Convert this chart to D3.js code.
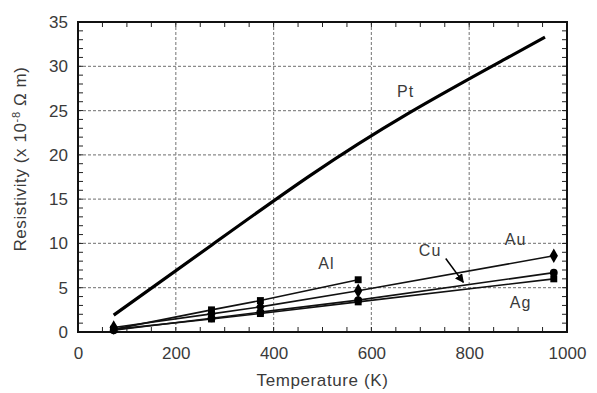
<!DOCTYPE html>
<html>
<head>
<meta charset="utf-8">
<script src="https://cdn.jsdelivr.net/npm/d3@7"></script>
<style>
  body { margin: 0; background: #fff; }
  text { font-family: "Liberation Sans", Arial, sans-serif; fill: #3a3a3a; }
</style>
</head>
<body>
<script>
// temperatures (K) of the measured points
var temps = [73, 273, 373, 573, 973];
var alValues = [0.3, 2.5, 3.55, 5.9];
var auValues = [0.5, 2.05, 2.84, 4.65, 8.6];
var cuValues = [0.2, 1.55, 2.24, 3.6, 6.7];
var agValues = [0.3, 1.47, 2.08, 3.4, 6.0];

// platinum curve
var ptTemps = [73, 273, 473, 673, 873, 955];
var ptValues = [1.9, 9.8, 17.6, 24.6, 30.8, 33.3];

var xTicks = [0, 200, 400, 600, 800, 1000];
var yTicks = [0, 5, 10, 15, 20, 25, 30, 35];

var width = 597,
    height = 393;
var margin = { top: 22, right: 30, bottom: 61, left: 78 };
var w = width - margin.left - margin.right,
    h = height - margin.top - margin.bottom;

var svg = d3.select("body").append("svg")
    .attr("width", width)
    .attr("height", height);

var g = svg.append("g")
    .attr("transform", `translate(${margin.left},${margin.top})`);

var x = d3.scaleLinear().domain([0, 1000]).range([0, w]);
var y = d3.scaleLinear().domain([0, 35]).range([h, 0]);

// dashed grid
g.selectAll(".gx").data(xTicks.slice(1, -1)).join("line")
    .attr("x1", d => x(d)).attr("x2", d => x(d))
    .attr("y1", 0).attr("y2", h)
    .attr("stroke", "#8a8a8a").attr("stroke-width", 1.2)
    .attr("stroke-dasharray", "3,2");
g.selectAll(".gy").data(yTicks.slice(1, -1)).join("line")
    .attr("y1", d => y(d)).attr("y2", d => y(d))
    .attr("x1", 0).attr("x2", w)
    .attr("stroke", "#8a8a8a").attr("stroke-width", 1.2)
    .attr("stroke-dasharray", "3,2");

// inward minor ticks on all four sides
var xMinor = d3.range(50, 1000, 50);
var yMinor = d3.range(1, 35, 1);
var tickLen = 5;
g.append("g").selectAll("line").data(xMinor).join("line")
    .attr("x1", d => x(d)).attr("x2", d => x(d))
    .attr("y1", h).attr("y2", h - tickLen)
    .attr("stroke", "#222");
g.append("g").selectAll("line").data(xMinor).join("line")
    .attr("x1", d => x(d)).attr("x2", d => x(d))
    .attr("y1", 0).attr("y2", tickLen)
    .attr("stroke", "#222");
g.append("g").selectAll("line").data(yMinor).join("line")
    .attr("y1", d => y(d)).attr("y2", d => y(d))
    .attr("x1", 0).attr("x2", tickLen)
    .attr("stroke", "#222");
g.append("g").selectAll("line").data(yMinor).join("line")
    .attr("y1", d => y(d)).attr("y2", d => y(d))
    .attr("x1", w).attr("x2", w - tickLen)
    .attr("stroke", "#222");

// axes labels only (ticks drawn above)
var xAxis = g.append("g")
    .attr("transform", `translate(0,${h})`)
    .call(d3.axisBottom(x).tickValues(xTicks).tickFormat(d3.format("d")).tickSize(0).tickPadding(15));
var yAxis = g.append("g")
    .call(d3.axisLeft(y).tickValues(yTicks).tickSize(0).tickPadding(10));
[xAxis, yAxis].forEach(function (a) {
    a.select(".domain").remove();
    a.selectAll("text")
        .style("font-size", "17px")
        .attr("fill", "#3a3a3a");
});

// frame
g.append("rect")
    .attr("width", w).attr("height", h)
    .attr("fill", "none")
    .attr("stroke", "#111").attr("stroke-width", 2);

// Pt curve
var line = d3.line()
    .x(d => x(d[0]))
    .y(d => y(d[1]))
    .curve(d3.curveNatural);

g.append("path")
    .datum(ptTemps.map((t, i) => [t, ptValues[i]]))
    .attr("d", line)
    .attr("fill", "none")
    .attr("stroke", "#000")
    .attr("stroke-width", 3.2);

// other metals
var series = [
    { name: "Al", values: alValues, shape: d3.symbolSquare, size: 48 },
    { name: "Ag", values: agValues, shape: d3.symbolSquare, size: 48 },
    { name: "Cu", values: cuValues, shape: d3.symbolCircle, size: 48 },
    { name: "Au", values: auValues, shape: d3.symbolDiamond, size: 60 }
];

series.forEach(function (s) {
    var pts = s.values.map((v, i) => [temps[i], v]);
    g.append("path")
        .datum(pts)
        .attr("d", d3.line().x(d => x(d[0])).y(d => y(d[1])))
        .attr("fill", "none")
        .attr("stroke", "#111")
        .attr("stroke-width", 1.6);
    g.selectAll(".m" + s.name).data(pts).join("path")
        .attr("transform", d => `translate(${x(d[0])},${y(d[1])})`)
        .attr("d", d3.symbol().type(s.shape).size(s.size))
        .attr("fill", "#000");
});

// series labels
var labels = [
    { text: "Pt", t: 670, v: 27.0 },
    { text: "Al", t: 508, v: 7.6 },
    { text: "Cu", t: 720, v: 9.1 },
    { text: "Au", t: 895, v: 10.3 },
    { text: "Ag", t: 905, v: 3.2 }
];
g.selectAll(".lbl").data(labels).join("text")
    .attr("x", d => x(d.t))
    .attr("y", d => y(d.v))
    .attr("text-anchor", "middle")
    .attr("dominant-baseline", "middle")
    .style("font-size", "16px")
    .style("letter-spacing", "1px")
    .text(d => d.text);

// arrow from Cu label
svg.append("defs").append("marker")
    .attr("id", "arr")
    .attr("viewBox", "0 0 10 10")
    .attr("refX", 9).attr("refY", 5)
    .attr("markerWidth", 6).attr("markerHeight", 6)
    .attr("orient", "auto")
    .append("path").attr("d", "M0,0 L10,5 L0,10 z").attr("fill", "#000");
g.append("line")
    .attr("x1", x(752)).attr("y1", y(8.3))
    .attr("x2", x(788)).attr("y2", y(5.6))
    .attr("stroke", "#000").attr("stroke-width", 1.5)
    .attr("marker-end", "url(#arr)");

// axis titles
svg.append("text")
    .attr("x", margin.left + w / 2)
    .attr("y", 386)
    .attr("text-anchor", "middle")
    .style("font-size", "17px")
    .style("letter-spacing", "0.6px")
    .text("Temperature (K)");

var yt = svg.append("text")
    .attr("transform", `translate(26,${margin.top + h / 2 - 18}) rotate(-90)`)
    .attr("text-anchor", "middle")
    .style("font-size", "17px")
    .style("letter-spacing", "0.6px");
yt.append("tspan").text("Resistivity (x 10");
yt.append("tspan").attr("baseline-shift", "super").style("font-size", "11px").text("-8");
yt.append("tspan").text(" \u03A9 m)");
</script>
</body>
</html>
